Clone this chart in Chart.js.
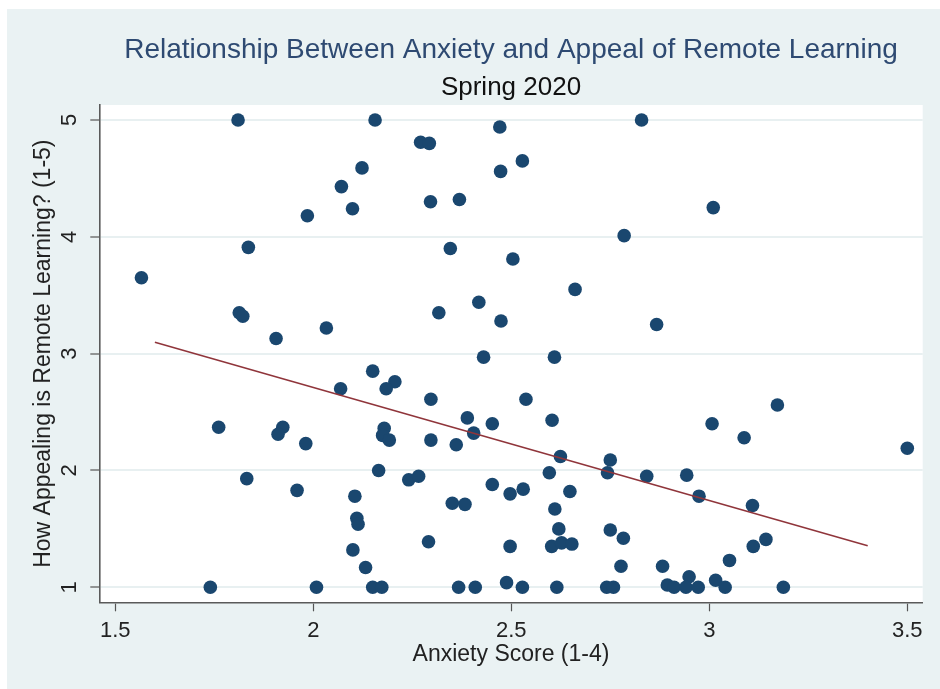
<!DOCTYPE html>
<html>
<head>
<meta charset="utf-8">
<script src="https://cdn.jsdelivr.net/npm/chart.js@4.4.1/dist/chart.umd.min.js"></script>
<style>
html,body{margin:0;padding:0;background:#ffffff;}
#wrap{width:940px;height:689px;}
</style>
</head>
<body>
<div id="wrap"><canvas id="c" width="940" height="689"></canvas></div>
<script>
// Anxiety score (x) and appeal of remote learning (y) for each respondent
const anxiety = [1.81,2.156,2.123,2.071,2.099,1.985,1.836,1.566,1.813,1.822,1.906,2.033,
  2.471,2.829,2.271,2.293,2.528,2.473,2.296,2.369,2.785,2.346,2.504,2.661,2.418,2.317,2.474,2.867,2.43,2.609,
  3.01,
  2.15,2.206,2.184,2.069,1.761,1.923,1.911,1.981,2.179,2.175,2.192,2.165,1.832,1.959,2.105,2.11,2.113,2.10,2.132,1.74,2.008,2.15,2.173,
  2.297,2.537,2.389,2.452,2.405,2.603,2.297,2.361,2.624,2.75,2.596,2.743,2.842,2.241,2.266,2.452,2.497,2.530,2.648,2.351,2.383,2.61,2.62,2.75,2.783,2.291,2.497,2.602,2.627,2.653,2.777,2.882,2.488,2.894,2.911,2.367,2.409,2.528,2.615,2.741,2.758,
  3.172,3.007,3.088,3.5,2.943,2.974,3.109,3.143,3.111,3.051,2.949,3.016,2.941,2.972,3.04,3.187];
const appeal = [5,5,4.59,4.43,4.24,4.18,3.91,3.65,3.35,3.32,3.13,3.22,
  4.94,5,4.81,4.80,4.65,4.56,4.30,4.32,4.01,3.90,3.81,3.55,3.44,3.35,3.28,3.25,2.97,2.97,
  4.25,
  2.85,2.76,2.70,2.70,2.37,2.37,2.31,2.23,2.36,2.30,2.26,2.00,1.93,1.83,1.78,1.59,1.54,1.32,1.17,1,1,1,1,
  2.61,2.61,2.45,2.40,2.32,2.43,2.26,2.22,2.12,2.09,1.98,1.98,1.95,1.92,1.95,1.88,1.80,1.84,1.82,1.72,1.71,1.67,1.50,1.49,1.42,1.39,1.35,1.35,1.38,1.37,1.18,1.18,1.04,1.02,1.0,1,1,1,1,1,1,
  2.56,2.40,2.28,2.19,1.96,1.78,1.70,1.41,1.35,1.23,1.09,1.06,1,1,1,1];
// Fitted line end points
const fitX = [1.6, 3.4];
const fitY = [3.097, 1.356];
// Tick labels
const xTicks = [1.5, 2, 2.5, 3, 3.5];
const yTicks = [1, 2, 3, 4, 5];

const points = anxiety.map((v, i) => ({x: v, y: appeal[i]}));
const fitPoints = fitX.map((v, i) => ({x: v, y: fitY[i]}));

const FONT = "'Liberation Sans', Arial, sans-serif";

const bgPlugin = {
  id: 'bg',
  beforeDraw(chart) {
    const {ctx, width, height, chartArea} = chart;
    ctx.save();
    ctx.fillStyle = '#ffffff';
    ctx.fillRect(0, 0, width, height);
    ctx.fillStyle = '#eaf2f3';
    ctx.fillRect(7, 9, width - 7, height - 9);
    ctx.fillStyle = '#ffffff';
    ctx.fillRect(chartArea.left, chartArea.top, chartArea.right - chartArea.left, chartArea.bottom - chartArea.top);
    ctx.restore();
  }
};

new Chart(document.getElementById('c'), {
  type: 'scatter',
  data: {
    datasets: [
      {
        type: 'line',
        data: fitPoints,
        borderColor: '#90353b',
        borderWidth: 1.6,
        pointRadius: 0,
        fill: false,
        tension: 0
      },
      {
        type: 'scatter',
        data: points,
        backgroundColor: '#1a476f',
        borderColor: '#1a476f',
        borderWidth: 0,
        pointRadius: 6.8
      }
    ]
  },
  plugins: [bgPlugin],
  options: {
    responsive: false,
    animation: false,
    devicePixelRatio: 1,
    layout: {padding: {left: 0, right: 17.3, top: 0, bottom: 0}},
    plugins: {
      legend: {display: false},
      tooltip: {enabled: false},
      title: {
        display: true,
        text: 'Relationship Between Anxiety and Appeal of Remote Learning',
        color: '#2e4a72',
        font: {family: FONT, size: 28, weight: 'normal'},
        fullSize: false,
        padding: {top: 33.2, bottom: 0}
      },
      subtitle: {
        display: true,
        text: 'Spring 2020',
        color: '#111111',
        font: {family: FONT, size: 26, weight: 'normal'},
        fullSize: false,
        padding: {top: 5.6, bottom: 1.4}
      }
    },
    scales: {
      x: {
        type: 'linear',
        min: 1.4596,
        max: 3.5389,
        afterBuildTicks: (s) => { s.ticks = xTicks.map(v => ({value: v})); },
        afterFit: (s) => { s.height = 86.7; },
        ticks: {
          callback: (v) => String(v),
          color: '#222222',
          font: {family: FONT, size: 22},
          padding: 6.5,
          autoSkip: false,
          maxRotation: 0
        },
        grid: {
          color: 'rgba(0,0,0,0)',
          drawOnChartArea: false,
          drawTicks: true,
          tickLength: 9,
          tickColor: '#555555',
          tickWidth: 1.2
        },
        border: {display: true, color: '#5a5a5a', width: 1.6},
        title: {
          display: true,
          text: 'Anxiety Score (1-4)',
          color: '#222222',
          font: {family: FONT, size: 23},
          padding: {top: 0, bottom: 20.2}
        }
      },
      y: {
        type: 'linear',
        min: 0.8716,
        max: 5.1284,
        afterBuildTicks: (s) => { s.ticks = yTicks.map(v => ({value: v})); },
        afterFit: (s) => { s.width = 99.3; },
        ticks: {
          callback: (v) => String(v),
          color: '#222222',
          font: {family: FONT, size: 22},
          padding: 14.2,
          minRotation: 90,
          maxRotation: 90,
          crossAlign: 'center',
          autoSkip: false
        },
        grid: {
          color: '#e8f0f1',
          lineWidth: 2,
          drawTicks: true,
          tickLength: 9,
          tickColor: '#555555',
          tickWidth: 1.2
        },
        border: {display: true, color: '#5a5a5a', width: 1.6},
        title: {
          display: true,
          text: 'How Appealing is Remote Learning? (1-5)',
          color: '#222222',
          font: {family: FONT, size: 23},
          padding: {top: 30, bottom: 0}
        }
      }
    }
  }
});
</script>
</body>
</html>
